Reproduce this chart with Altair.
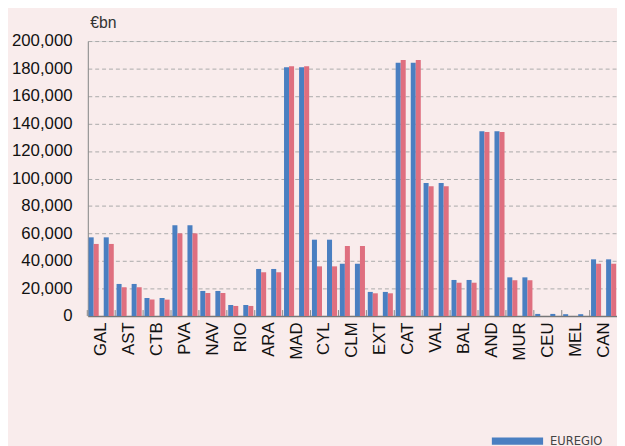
import altair as alt
import pandas as pd

cats = ["GAL", "AST", "CTB", "PVA", "NAV", "RIO", "ARA", "MAD", "CYL", "CLM",
        "EXT", "CAT", "VAL", "BAL", "AND", "MUR", "CEU", "MEL", "CAN"]
euregio = [57200, 23300, 13100, 66000, 18200, 8000, 34200, 180900, 55500, 38000,
           17500, 184200, 96700, 26200, 134300, 28100, 1500, 1300, 41200]
ine = [52400, 20900, 11900, 60100, 16700, 7300, 31800, 181600, 36100, 50900,
       16500, 186200, 94300, 24200, 133800, 26000, 0, 0, 38000]
series_names = ["EUREGIO", "INE"]
y_ticks = [0, 20000, 40000, 60000, 80000, 100000, 120000, 140000, 160000, 180000, 200000]

rows = []
for i, c in enumerate(cats):
    for rep in (1, 2):
        rows.append({"cat": c, "series": "EUREGIO", "slot": f"E{rep}", "value": euregio[i]})
        rows.append({"cat": c, "series": "INE", "slot": f"I{rep}", "value": ine[i]})
df = pd.DataFrame(rows)

x_enc = alt.X(
    "cat:N", sort=cats,
    scale=alt.Scale(paddingInner=0.1, paddingOuter=0.03),
    axis=alt.Axis(title=None, labelAngle=-90, labelFontSize=17, labelColor="#111",
                  labelFont="Liberation Sans",
                  ticks=False, domainColor="#777", domainWidth=1.5, labelPadding=6),
)

bars = alt.Chart(df).mark_bar(strokeWidth=0).encode(
    x=x_enc,
    xOffset=alt.XOffset("slot:N", scale=alt.Scale(domain=["E1", "I1", "gap", "E2", "I2"],
                                                 paddingInner=0, paddingOuter=0)),
    y=alt.Y("value:Q", scale=alt.Scale(domain=[0, 200000]),
            axis=alt.Axis(values=y_ticks, format=",.0f", labelFontSize=17, labelColor="#111",
                          labelFont="Liberation Sans",
                          gridDash=[4, 3], gridColor="#aaa", domainColor="#888",
                          ticks=False, labelPadding=16,
                          title="€bn", titleAngle=0, titleX=2, titleY=-14,
                          titleAlign="left", titleBaseline="alphabetic",
                          titleFont="Liberation Sans",
                          titleFontSize=16, titleFontWeight="normal", titleColor="#333")),
    color=alt.Color("series:N",
                    scale=alt.Scale(domain=series_names, range=["#4a7fc1", "#df6f7f"]),
                    legend=alt.Legend(orient="none", legendX=410, legendY=380, title=None,
                                      symbolType="M-1,-0.144L1,-0.144L1,0.144L-1,0.144Z",
                                      symbolSize=2704, symbolStrokeWidth=0,
                                      labelOffset=7,
                                      labelFont="DejaVu Sans Condensed, Liberation Sans",
                                      labelFontSize=13,
                                      labelColor="#444", direction="vertical")),
)

ticks = alt.Chart(pd.DataFrame({"cat": cats})).mark_rule(
    color="#888", strokeWidth=1, xOffset=-1.4
).encode(
    x=alt.X("cat:N", sort=cats, bandPosition=0),
    y=alt.value(279), y2=alt.value(273),
)

chart = alt.layer(ticks, bars).properties(
    width=537, height=279,
    padding={"left": 3, "top": 3, "right": 0, "bottom": 0},
    background="#f9ecec",
).configure_view(stroke=None).configure(font="Liberation Sans")

chart.save("out.html", embed_options={"renderer": "svg", "actions": False})
